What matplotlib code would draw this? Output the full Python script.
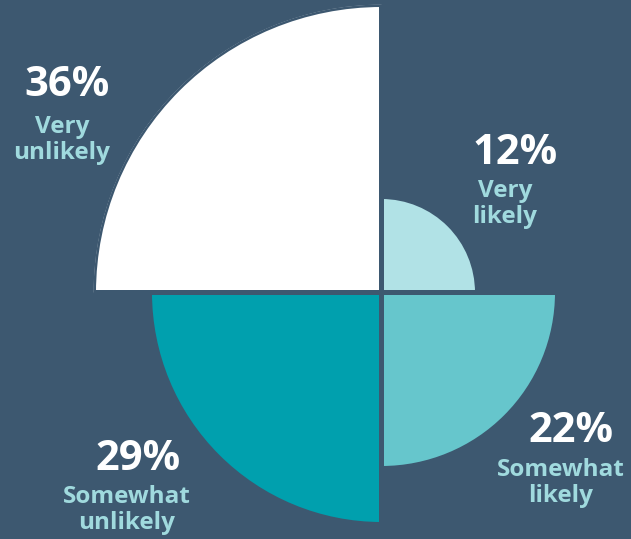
import numpy as np
import matplotlib
matplotlib.use("Agg")
import matplotlib.pyplot as plt

# Survey answers, one quadrant each (counter-clockwise from the east axis)
categories = ["Very\nlikely", "Very\nunlikely", "Somewhat\nunlikely", "Somewhat\nlikely"]
values = [12, 36, 29, 22]
colors = ["#b1e2e6", "#ffffff", "#00a0ae", "#66c6cc"]

BG = "#3d5870"
LABEL_COLOR = "#a0dade"
W, H = 631, 539

fig = plt.figure(figsize=(W / 100, H / 100), dpi=100, facecolor=BG)

# Polar axes centred where the quadrants meet
cx, cy = 381.5, 292.5
rmax_px = 288.0
ax = fig.add_axes([(cx - rmax_px) / W, (H - cy - rmax_px) / H,
                   2 * rmax_px / W, 2 * rmax_px / H], projection="polar")
ax.set_facecolor("none")
ax.set_theta_zero_location("E")
ax.set_theta_direction(1)

theta = np.deg2rad([45, 135, 225, 315])
ax.bar(theta, values, width=np.pi / 2, color=colors, edgecolor=BG,
       linewidth=3.6, joinstyle="miter", align="center")
ax.set_ylim(0, max(values))
ax.set_axis_off()

# Value and category labels, placed in figure pixels
value_pos = [(515, 153), (67, 86), (138, 459), (571, 432)]
cat_pos = [(505, 204), (62, 140), (127, 510), (561, 483)]
font = "Open Sans"
for (x, y), (lx, ly), v, cat in zip(value_pos, cat_pos, values, categories):
    fig.text(x / W, 1 - y / H, f"{v}%", ha="center", va="center",
             color="white", fontsize=30, fontweight="bold", family=font)
    fig.text(lx / W, 1 - ly / H, cat, ha="center", va="center",
             color=LABEL_COLOR, fontsize=17.5, fontweight="bold", family=font,
             linespacing=1.13)

fig.savefig("out.png", dpi=100, facecolor=BG)
